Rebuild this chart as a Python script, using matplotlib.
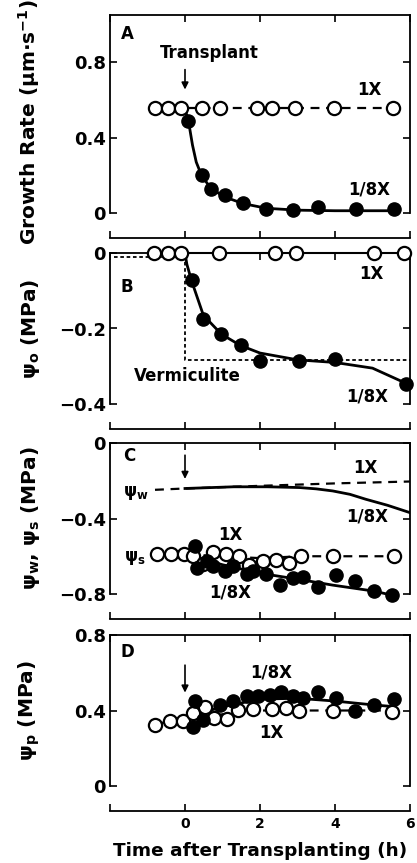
import matplotlib
matplotlib.use("Agg")
import matplotlib.pyplot as plt

plt.rcParams['font.family'] = ['DejaVu Sans']
plt.rcParams['font.weight'] = 'bold'
plt.rcParams['mathtext.fontset'] = 'dejavusans'
plt.rcParams['mathtext.default'] = 'bf'

# ---------------- data ----------------
# Panel A: growth rate
a_1x_t = [-0.80, -0.45, -0.11, 0.45, 0.93, 1.91, 2.31, 2.92, 3.98, 5.55]
a_1x_v = [0.555] * 10
a_8x_t = [0.09, 0.44, 0.69, 1.06, 1.55, 2.17, 2.88, 3.54, 4.56, 5.58]
a_8x_v = [0.49, 0.20, 0.125, 0.095, 0.055, 0.02, 0.016, 0.03, 0.02, 0.02]
a_fit_t = [0.0, 0.09, 0.2, 0.3, 0.44, 0.69, 1.06, 1.55, 2.17, 3.0, 4.0, 5.58]
a_fit_v = [0.55, 0.49, 0.36, 0.27, 0.20, 0.13, 0.085, 0.05, 0.025, 0.015, 0.012, 0.012]

# Panel B: osmotic potential
b_1x_t = [-0.84, -0.46, -0.11, 0.91, 2.39, 2.95, 5.05, 5.84]
b_1x_v = [0.0] * 8
b_8x_t = [0.18, 0.49, 0.97, 1.48, 1.99, 3.03, 4.0, 5.89]
b_8x_v = [-0.072, -0.174, -0.214, -0.243, -0.285, -0.285, -0.281, -0.346]
b_fit_t = [0.0, 0.05, 0.18, 0.49, 0.97, 1.48, 2.0, 3.0, 4.0, 5.0, 6.0]
b_fit_v = [0.0, -0.03, -0.075, -0.165, -0.215, -0.245, -0.265, -0.283, -0.29, -0.305, -0.35]
verm_t = [-1.9, 0.0, 0.0, 6.0]
verm_v = [-0.01, -0.01, -0.283, -0.283]

# Panel C: water potential and solute potential
c_w1x_t = [-0.8, 0.0, 2.0, 4.0, 6.0]
c_w1x_v = [-0.248, -0.241, -0.227, -0.214, -0.204]
c_w8x_t = [0.0, 1.3, 2.2, 3.05, 3.5, 3.94, 4.4, 4.82, 5.4, 6.0]
c_w8x_v = [-0.241, -0.232, -0.232, -0.236, -0.243, -0.254, -0.272, -0.298, -0.33, -0.369]
c_s1x_t = [-0.75, -0.38, -0.04, 0.20, 0.48, 0.75, 1.09, 1.44, 1.71, 2.08, 2.42, 2.77, 3.10, 3.94, 5.58]
c_s1x_v = [-0.59, -0.59, -0.59, -0.60, -0.64, -0.58, -0.59, -0.60, -0.645, -0.625, -0.62, -0.635, -0.60, -0.60, -0.60]
c_s8x_t = [0.27, 0.31, 0.58, 0.75, 1.06, 1.28, 1.64, 1.81, 2.17, 2.52, 2.88, 3.14, 3.54, 4.03, 4.54, 5.05, 5.53]
c_s8x_v = [-0.545, -0.66, -0.625, -0.65, -0.68, -0.65, -0.695, -0.68, -0.695, -0.75, -0.715, -0.71, -0.765, -0.70, -0.73, -0.785, -0.805]
c_s1x_line_t = [-0.75, 0.0, 1.0, 2.0, 3.1, 5.58]
c_s1x_line_v = [-0.59, -0.59, -0.60, -0.61, -0.60, -0.60]
c_s8x_fit_t = [0.2, 1.0, 2.0, 3.05, 3.94, 5.05, 5.6]
c_s8x_fit_v = [-0.60, -0.645, -0.69, -0.723, -0.753, -0.785, -0.81]

# Panel D: turgor
d_1x_t = [-0.80, -0.40, -0.06, 0.22, 0.53, 0.78, 1.11, 1.42, 1.81, 2.33, 2.68, 3.05, 3.94, 5.53]
d_1x_v = [0.325, 0.342, 0.347, 0.387, 0.419, 0.36, 0.355, 0.404, 0.408, 0.408, 0.413, 0.395, 0.40, 0.39]
d_8x_t = [0.27, 0.22, 0.49, 0.93, 1.28, 1.64, 1.95, 2.26, 2.57, 2.88, 3.14, 3.54, 4.03, 4.52, 5.05, 5.58]
d_8x_v = [0.448, 0.315, 0.351, 0.43, 0.448, 0.475, 0.475, 0.484, 0.50, 0.475, 0.466, 0.50, 0.466, 0.395, 0.43, 0.461]
d_1x_line_t = [-0.8, 0.0, 1.0, 2.0, 3.0, 5.53]
d_1x_line_v = [0.33, 0.35, 0.38, 0.40, 0.40, 0.40]
d_8x_fit_t = [0.15, 1.0, 2.0, 3.0, 4.0, 5.0, 5.6]
d_8x_fit_v = [0.37, 0.42, 0.46, 0.465, 0.45, 0.43, 0.42]

x_ticks = [-2, 0, 2, 4, 6]
x_ticklabels = ['', '0', '2', '4', '6']

# ---------------- figure ----------------
W, H = 417, 863
fig = plt.figure(figsize=(W / 100, H / 100), dpi=100)

def box(top_px, bottom_px):
    left, right = 110, 410
    return [left / W, 1 - bottom_px / H, (right - left) / W, (bottom_px - top_px) / H]

axA = fig.add_axes(box(15, 213))
axB = fig.add_axes(box(253, 404))
axC = fig.add_axes(box(443, 594))
axD = fig.add_axes(box(635, 786))

FS = 12
TFS = 13
LFS = 14.5
LW = 1.6
MS = 9.5

def style(ax, ylim, yticks, yticklabels, ylabel, show_x=False, label_y=0.5):
    ax.set_xlim(-2, 6)
    ax.set_ylim(*ylim)
    ax.set_yticks(yticks)
    ax.set_yticklabels(yticklabels, fontsize=TFS, fontweight='bold')
    ax.set_xticks(x_ticks)
    ax.set_xticklabels(x_ticklabels if show_x else [''] * 5, fontsize=TFS, fontweight='bold')
    ax.tick_params(direction='in', length=5, width=1.2, top=True, right=True)
    ax.tick_params(axis='y', pad=3)
    ax.tick_params(axis='x', pad=4)
    for s in ax.spines.values():
        s.set_linewidth(1.3)
    ax.spines['bottom'].set_position(('outward', 18))
    ax.spines['left'].set_bounds(min(yticks), ylim[1])
    ax.spines['right'].set_bounds(min(yticks), ylim[1])
    ax.set_ylabel(ylabel, fontsize=LFS, fontweight='bold')
    ax.yaxis.set_label_coords(-0.228, label_y)
    ax.patch.set_visible(False)

open_kw = dict(marker='o', ms=MS, mfc='white', mec='black', mew=1.6, ls='none', clip_on=False, zorder=4)
fill_kw = dict(marker='o', ms=MS, mfc='black', mec='black', ls='none', clip_on=False, zorder=5)
txt = dict(fontsize=FS, fontweight='bold', ha='center', va='center')

# Panel A
style(axA, (0, 1.05), [0, 0.4, 0.8], ['0', '0.4', '0.8'],
      'Growth Rate ($\\mu$m$\\cdot$s$^{-1}$)', label_y=0.46)
axA.plot(a_1x_t, a_1x_v, ls=(0, (4, 3)), color='black', lw=LW, zorder=2)
axA.plot(a_fit_t, a_fit_v, color='black', lw=2, zorder=2, clip_on=False)
axA.plot(a_1x_t, a_1x_v, **open_kw)
axA.plot(a_8x_t, a_8x_v, **fill_kw)
axA.annotate('', xy=(0, 0.64), xytext=(0, 0.775),
             arrowprops=dict(arrowstyle='-|>', color='black', lw=1.2, mutation_scale=10))
axA.text(0.66, 0.85, 'Transplant', **txt)
axA.text(4.91, 0.65, '1X', **txt)
axA.text(4.91, 0.125, '1/8X', **txt)
axA.text(-1.55, 0.95, 'A', **txt)

# Panel B
style(axB, (-0.4, 0.0), [-0.4, -0.2, 0], ['\u22120.4', '\u22120.2', '0'],
      '\u03c8$_\\mathbf{o}$ (MPa)')
axB.plot(verm_t, verm_v, ls=(0, (2, 1.5)), color='black', lw=1.3, zorder=1)
axB.plot(b_1x_t, b_1x_v, color='black', lw=1.5, zorder=2, clip_on=False)
axB.plot(b_fit_t, b_fit_v, color='black', lw=2, zorder=2, clip_on=False)
axB.plot(b_1x_t, b_1x_v, **open_kw)
axB.plot(b_8x_t, b_8x_v, **fill_kw)
axB.text(4.96, -0.055, '1X', **txt)
axB.text(4.87, -0.38, '1/8X', **txt)
axB.text(0.05, -0.325, 'Vermiculite', **txt)
axB.text(-1.55, -0.09, 'B', **txt)

# Panel C
style(axC, (-0.8, 0.0), [-0.8, -0.4, 0], ['\u22120.8', '\u22120.4', '0'],
      '\u03c8$_\\mathbf{w}$, \u03c8$_\\mathbf{s}$ (MPa)')
axC.plot(c_w1x_t, c_w1x_v, ls=(0, (4, 3)), color='black', lw=LW, zorder=2)
axC.plot(c_w8x_t, c_w8x_v, color='black', lw=2, zorder=2)
axC.plot(c_s1x_line_t, c_s1x_line_v, ls=(0, (4, 3)), color='black', lw=LW, zorder=2)
axC.plot(c_s8x_fit_t, c_s8x_fit_v, color='black', lw=2, zorder=2, clip_on=False)
axC.plot(c_s1x_t, c_s1x_v, **open_kw)
axC.plot(c_s8x_t, c_s8x_v, **fill_kw)
axC.annotate('', xy=(0, -0.205), xytext=(0, -0.05),
             arrowprops=dict(arrowstyle='-|>', color='black', lw=1.2, mutation_scale=10))
axC.text(4.82, -0.135, '1X', **txt)
axC.text(4.87, -0.39, '1/8X', **txt)
axC.text(1.2, -0.49, '1X', **txt)
axC.text(1.2, -0.79, '1/8X', **txt)
axC.text(-1.3, -0.265, '\u03c8$_\\mathbf{w}$', **txt)
axC.text(-1.35, -0.61, '\u03c8$_\\mathbf{s}$', **txt)
axC.text(-1.5, -0.07, 'C', **txt)

# Panel D
style(axD, (0, 0.8), [0, 0.4, 0.8], ['0', '0.4', '0.8'],
      '\u03c8$_\\mathbf{p}$ (MPa)', show_x=True)
axD.plot(d_1x_line_t, d_1x_line_v, ls=(0, (4, 3)), color='black', lw=LW, zorder=2)
axD.plot(d_8x_fit_t, d_8x_fit_v, color='black', lw=2, zorder=2)
axD.plot(d_1x_t, d_1x_v, **open_kw)
axD.plot(d_8x_t, d_8x_v, **fill_kw)
axD.annotate('', xy=(0, 0.48), xytext=(0, 0.655),
             arrowprops=dict(arrowstyle='-|>', color='black', lw=1.2, mutation_scale=10))
axD.text(2.3, 0.6, '1/8X', **txt)
axD.text(2.3, 0.28, '1X', **txt)
axD.text(-1.55, 0.71, 'D', **txt)
axD.set_xlabel('Time after Transplanting (h)', fontsize=13.3, fontweight='bold', labelpad=8)

fig.savefig('out.png', dpi=100)
